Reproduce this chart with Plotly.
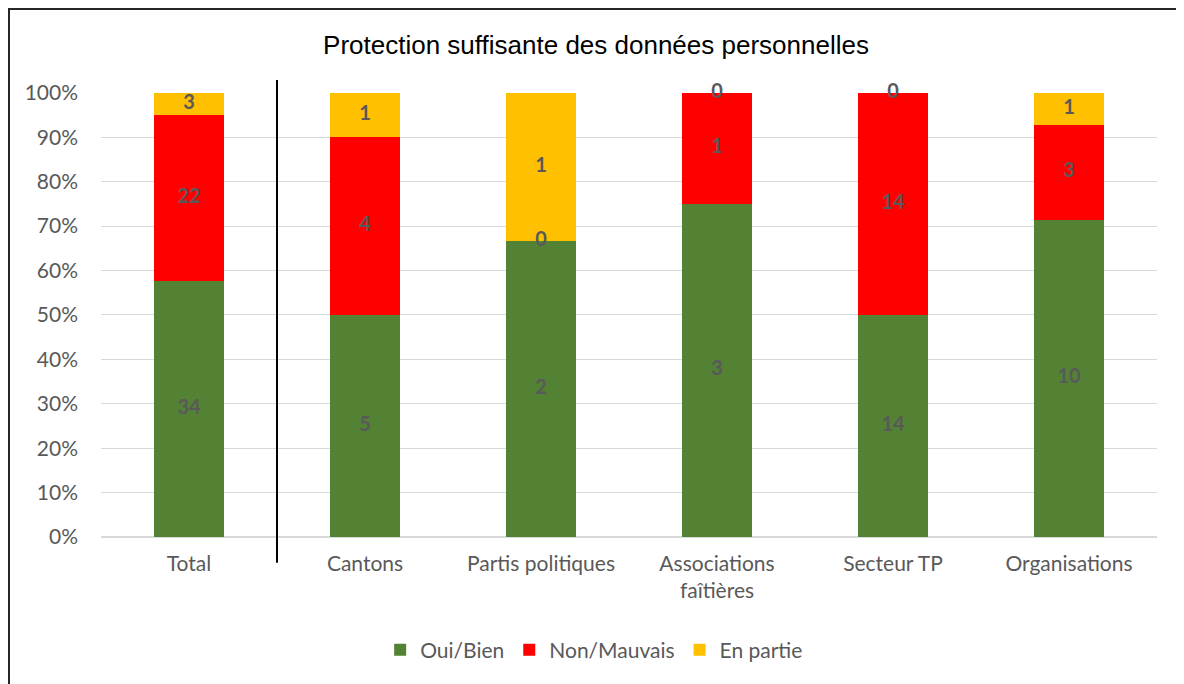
import plotly.graph_objects as go

categories = ["Total", "Cantons", "Partis politiques", "Associations<br>faîtières", "Secteur TP", "Organisations"]
oui_bien = [34, 5, 2, 3, 14, 10]
non_mauvais = [22, 4, 0, 1, 14, 3]
en_partie = [3, 1, 1, 0, 0, 1]

series = [
    ("Oui/Bien", oui_bien, "#548235"),
    ("Non/Mauvais", non_mauvais, "#FF0000"),
    ("En partie", en_partie, "#FFC000"),
]

totals = [a + b + c for a, b, c in zip(oui_bien, non_mauvais, en_partie)]

fig = go.Figure()
base = [0.0] * len(categories)
label_x, label_y, label_t = [], [], []
for name, vals, color in series:
    shares = [v / t for v, t in zip(vals, totals)]
    fig.add_trace(go.Bar(
        x=categories, y=shares, name=name, marker_color=color,
        marker_line_width=0, hoverinfo="skip",
    ))
    for i, (s, v) in enumerate(zip(shares, vals)):
        label_x.append(categories[i])
        label_y.append(base[i] + s / 2)
        label_t.append("<b>" + str(v) + "</b>")
        base[i] += s

fig.add_trace(go.Scatter(
    x=label_x, y=label_y, text=label_t, mode="text", showlegend=False,
    textfont=dict(family="Lato", size=20, color="#595959"),
    hoverinfo="skip", cliponaxis=False,
))

W, H = 1176, 676
fig.update_layout(
    barmode="stack",
    bargap=0.6,
    width=W, height=H,
    margin=dict(l=93, r=27, t=84, b=147),
    paper_bgcolor="white", plot_bgcolor="white",
    title=dict(text="Protection suffisante des données personnelles",
               x=0.5, xanchor="center", y=1 - 37 / H, yanchor="middle",
               font=dict(family="Liberation Sans", size=26, color="#000000")),
    font=dict(family="Lato", size=21, color="#595959"),
    legend=dict(orientation="h", x=0.467, xanchor="center", y=-0.254, yanchor="middle",
                font=dict(family="Lato", size=21, color="#595959"),
                itemwidth=30, traceorder="normal"),
    xaxis=dict(showgrid=False, showline=False, ticks="", ticklabelstandoff=12,
               tickfont=dict(size=21, color="#595959")),
    yaxis=dict(range=[0, 1.002], dtick=0.1, tickformat=".0%", showgrid=True,
               gridcolor="#D9D9D9", gridwidth=1, zeroline=True, zerolinecolor="#D9D9D9",
               ticks="", tickfont=dict(size=21, color="#595959"), ticklabelstandoff=22),
    shapes=[
        dict(type="line", xref="x", yref="paper", x0=0.5, x1=0.5, y0=-0.058, y1=1.027,
             line=dict(color="black", width=2)),
        dict(type="rect", xref="paper", yref="paper", x0=-92 / 1056, x1=1.2,
             y0=-0.6, y1=1 + 83 / 445, line=dict(color="#262626", width=2),
             fillcolor="rgba(0,0,0,0)", layer="above"),
    ],
)

fig.write_html("out.html")
